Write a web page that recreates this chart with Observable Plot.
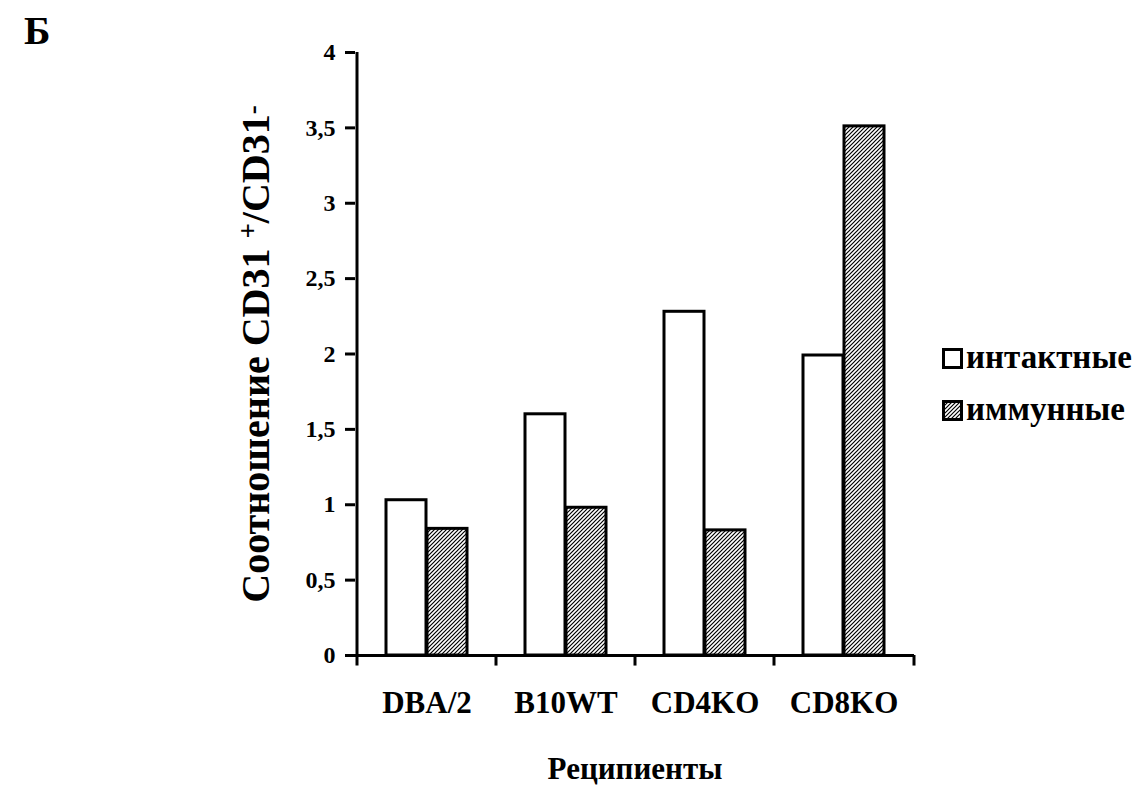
<!DOCTYPE html>
<html><head><meta charset="utf-8">
<style>
html body, html body *, html body svg text, html body svg tspan { font-family: 'Liberation Serif', 'Times New Roman', serif !important; font-weight: bold; }
</style>
<script src="https://cdn.jsdelivr.net/npm/d3@7"></script>
<script src="https://cdn.jsdelivr.net/npm/@observablehq/plot@0.6"></script>
</head><body style="margin:0;background:#fff">
<svg width="0" height="0" style="position:absolute">
<defs>
<pattern id="hatch" patternUnits="userSpaceOnUse" width="4" height="4">
<rect width="4" height="4" fill="#fff"/>
<path d="M-1,1 l2,-2 M0,4 l4,-4 M3,5 l2,-2" stroke="#000" stroke-width="1.2"/>
</pattern>
</defs>
</svg>
<div id="wrap" style="position:relative;width:1139px;height:785px;overflow:hidden"></div>
<script>
const recipients = ["DBA/2", "B10WT", "CD4KO", "CD8KO"];
const seriesNames = ["интактные", "иммунные"];
const intact = [1.03, 1.60, 2.28, 1.99];
const immune = [0.84, 0.98, 0.83, 3.51];
const yTicks = [0, 0.5, 1, 1.5, 2, 2.5, 3, 3.5, 4];
const xLabel = "Реципиенты";
const panelLetter = "Б";
const FONT = "'Liberation Serif', 'Times New Roman', serif";

const rows = recipients.flatMap((r, i) => [
  {r, s: seriesNames[0], v: intact[i]},
  {r, s: seriesNames[1], v: immune[i]}
]);
const rowsIntact = rows.filter(d => d.s === seriesNames[0]);
const rowsImmune = rows.filter(d => d.s === seriesNames[1]);

const plot = Plot.plot({
  width: 1139,
  height: 785,
  marginLeft: 355,
  marginRight: 225,
  marginTop: 52,
  marginBottom: 130,
  style: {fontFamily: FONT, fontWeight: "bold", background: "#fff", color: "#000"},
  x: {domain: recipients, padding: 0},
  y: {domain: [0, 4]},
  marks: [
    Plot.barY(rowsIntact, {x: "r", y: "v", fill: "#fff", stroke: "#000", strokeWidth: 3, insetLeft: 29, insetRight: 70}),
    Plot.barY(rowsImmune, {x: "r", y: "v", fill: "url(#hatch)", stroke: "#000", strokeWidth: 3, insetLeft: 70, insetRight: 29}),
    Plot.ruleY([0], {stroke: "#000", strokeWidth: 3}),
    Plot.ruleX([recipients[0]], {dx: -70, y1: -0.07, y2: 4, stroke: "#000", strokeWidth: 3}),
    Plot.ruleX(recipients.slice(1), {dx: -70, y1: -0.07, y2: 0, stroke: "#000", strokeWidth: 3}),
    Plot.ruleX([recipients[recipients.length - 1]], {dx: 70, y1: -0.07, y2: 0, stroke: "#000", strokeWidth: 3}),
    Plot.axisY({ticks: yTicks, tickSize: 10, tickPadding: 10, strokeWidth: 3, fontSize: 24, fontWeight: "bold", fontFamily: FONT,
      tickFormat: d => String(d).replace(".", ","), label: null}),
    Plot.axisX({tickSize: 0, tickPadding: 35, fontSize: 31, fontWeight: "bold", fontFamily: FONT, label: null}),
    Plot.text([xLabel], {frameAnchor: "bottom", dy: 114, fontSize: 31, fontWeight: "bold", fontFamily: FONT, lineAnchor: "middle"}),
    Plot.text(["YLABEL"], {frameAnchor: "left", dx: -99, rotate: -90, textAnchor: "middle", fontSize: 40, fontWeight: "bold", fontFamily: FONT, lineAnchor: "middle"})
  ]
});

// rich y label with superscripts
d3.select(plot).selectAll("text").filter(function() { return this.textContent === "YLABEL"; }).each(function() {
  const t = d3.select(this);
  t.text(null);
  t.append("tspan").text("Соотношение CD31 ");
  t.append("tspan").attr("dy", "-0.45em").style("font-size", "27px").text("+");
  t.append("tspan").attr("dy", "0.3em").text("/CD31");
  t.append("tspan").attr("dy", "-0.3em").style("font-size", "27px").text("-");
});
d3.select(plot).attr("font-family", null);
d3.select(plot).selectAll("g").attr("font-family", null);
d3.select(plot).selectAll("text, tspan").each(function() {
  this.removeAttribute("font-family");
  this.style.setProperty("font-family", FONT, "important");
  this.style.setProperty("font-weight", "bold", "important");
});

const wrap = document.getElementById("wrap");
wrap.appendChild(plot);

function ov(txt, style) {
  const d = document.createElement("div");
  d.textContent = txt;
  Object.assign(d.style, {position: "absolute", whiteSpace: "nowrap", color: "#000"}, style);
  d.style.setProperty("font-family", FONT, "important");
  d.style.setProperty("font-weight", "bold", "important");
  wrap.appendChild(d);
  return d;
}
ov(panelLetter, {left: "24px", top: "8px", fontSize: "40px", lineHeight: "46px"});
// legend
seriesNames.forEach((name, i) => {
  const y = 348 + i * 52;
  const sw = document.createElementNS("http://www.w3.org/2000/svg", "svg");
  sw.setAttribute("width", "21"); sw.setAttribute("height", "21");
  sw.style.position = "absolute"; sw.style.left = "942px"; sw.style.top = y + "px";
  sw.innerHTML = `<rect x="1.5" y="1.5" width="18" height="18" fill="${i === 0 ? "#fff" : "url(#hatch)"}" stroke="#000" stroke-width="3"/>`;
  wrap.appendChild(sw);
  ov(name, {left: "966px", top: (y - 11) + "px", fontSize: "33px", lineHeight: "40px"});
});
</script>
</body></html>
